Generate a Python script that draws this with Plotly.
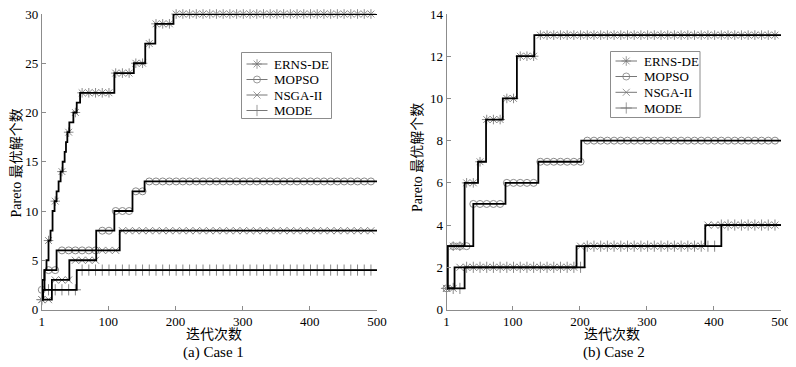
import numpy as np
import plotly.graph_objects as go

# ---------------- data (step change points: iteration -> value) ----------------
ITER_MAX = 500
x_ticks = [1, 100, 200, 300, 400, 500]
y1_ticks = [0, 5, 10, 15, 20, 25, 30]
y2_ticks = [0, 2, 4, 6, 8, 10, 12, 14]
series_names = ["ERNS-DE", "MOPSO", "NSGA-II", "MODE"]

# Case 1
c1_ernsde_iter = [1, 3, 5, 8, 11, 14, 17, 20, 23, 26, 29, 32, 35, 37, 39, 42, 48, 53, 58, 109, 138, 155, 170, 197]
c1_ernsde_val = [1, 2, 4, 5, 7, 8, 10, 11, 12, 13, 14, 15, 16, 17, 18, 19, 20, 21, 22, 24, 25, 27, 29, 30]
c1_mopso_iter = [1, 2, 5, 23, 82, 109, 136, 154]
c1_mopso_val = [2, 3, 4, 6, 8, 10, 12, 13]
c1_nsga_iter = [1, 16, 42, 82, 117]
c1_nsga_val = [1, 3, 5, 6, 8]
c1_mode_iter = [1, 2, 53]
c1_mode_val = [1, 2, 4]

# Case 2
c2_ernsde_iter = [1, 2, 28, 48, 60, 85, 106, 132]
c2_ernsde_val = [1, 3, 6, 7, 9, 10, 12, 13]
c2_mopso_iter = [1, 3, 41, 89, 138, 202]
c2_mopso_val = [1, 3, 5, 6, 7, 8]
c2_nsga_iter = [1, 13, 195, 387]
c2_nsga_val = [1, 2, 3, 4]
c2_mode_iter = [1, 28, 207, 411]
c2_mode_val = [1, 2, 3, 4]

marker_every = 10

# ---------------- styling ----------------
SERIF = "Liberation Serif, Times New Roman, serif"
CJK = "Liberation Serif, Noto Sans CJK SC, serif"
symbols = ["asterisk-open", "circle-open", "x-thin-open", "cross-thin-open"]
msizes = [8, 7, 7, 8]
MCOL = "#8a8a8a"
AXCOL = "#8c8c8c"

# the page places the figure 8px from the top-left corner of the window
OFF = 8
VIEW_W, VIEW_H = 796, 367
W, H = VIEW_W - OFF, VIEW_H - OFF

fig = go.Figure()

cases = [
    ([c1_ernsde_iter, c1_mopso_iter, c1_nsga_iter, c1_mode_iter],
     [c1_ernsde_val, c1_mopso_val, c1_nsga_val, c1_mode_val], "x", "y"),
    ([c2_ernsde_iter, c2_mopso_iter, c2_nsga_iter, c2_mode_iter],
     [c2_ernsde_val, c2_mopso_val, c2_nsga_val, c2_mode_val], "x2", "y2"),
]

mk_iters = np.arange(1, ITER_MAX + 1, marker_every)

for iters_list, vals_list, xa, ya in cases:
    # markers (grey) first
    for k in range(4):
        it = np.array(iters_list[k])
        v = np.array(vals_list[k])
        idx = np.searchsorted(it, mk_iters, side="right") - 1
        fig.add_trace(go.Scatter(
            x=mk_iters, y=v[idx], mode="markers", xaxis=xa, yaxis=ya,
            showlegend=False, hoverinfo="skip", cliponaxis=False,
            marker=dict(symbol=symbols[k], size=msizes[k], color=MCOL,
                        line=dict(color=MCOL, width=1))))
    # black step lines
    for k in range(4):
        it = list(iters_list[k]) + [ITER_MAX]
        v = list(vals_list[k]) + [vals_list[k][-1]]
        fig.add_trace(go.Scatter(
            x=it, y=v, mode="lines", xaxis=xa, yaxis=ya, line_shape="hv",
            showlegend=False, hoverinfo="skip", cliponaxis=False,
            line=dict(color="black", width=1.8)))

# ---------------- hand-drawn legends (window-pixel overlay axes x3/y3) ----------------
legend_boxes = [
    dict(x0=241.5, y0=52.5, x1=331.5, y1=118.5, lx0=246.5, lx1=267.5, tx=271.5,
         rows=[64, 79.5, 95, 110.5]),
    dict(x0=610.5, y0=51.5, x1=700, y1=117.5, lx0=615.5, lx1=637, tx=641.5,
         rows=[61, 76.5, 92.3, 108]),
]
shapes = []
annotations = []
for lb in legend_boxes:
    shapes.append(dict(type="rect", xref="x3", yref="y3", x0=lb["x0"], y0=lb["y0"],
                       x1=lb["x1"], y1=lb["y1"], line=dict(color=AXCOL, width=1),
                       fillcolor="white", layer="below"))
    for k in range(4):
        yy = lb["rows"][k]
        shapes.append(dict(type="line", xref="x3", yref="y3", x0=lb["lx0"], x1=lb["lx1"],
                           y0=yy, y1=yy, line=dict(color="#777777", width=1)))
        annotations.append(dict(text=series_names[k], xref="x3", yref="y3", x=lb["tx"], y=yy,
                                xanchor="left", yanchor="middle", showarrow=False,
                                font=dict(family=SERIF, size=13, color="black")))
    fig.add_trace(go.Scatter(
        x=[(lb["lx0"] + lb["lx1"]) / 2] * 4, y=lb["rows"], mode="markers",
        xaxis="x3", yaxis="y3", showlegend=False, hoverinfo="skip",
        marker=dict(symbol=symbols, size=msizes, color="#707070",
                    line=dict(color="#707070", width=1))))

def px_x(p):
    return (p - OFF) / W
def px_y(p):
    return 1 - (p - OFF) / H

ydom = [px_y(309.5), px_y(14)]
axis_common = dict(showline=True, linecolor=AXCOL, linewidth=1, ticks="inside",
                   ticklen=4, tickcolor=AXCOL, showgrid=False, zeroline=False,
                   automargin=False, ticklabeloverflow="allow",
                   tickfont=dict(family=SERIF, size=13, color="black"))

annotations += [
    dict(text="Pareto 最优解个数", x=px_x(16.5), y=px_y(163), xref="paper", yref="paper",
         xanchor="center", yanchor="middle",
         textangle=-90, showarrow=False, font=dict(family=CJK, size=14, color="black")),
    dict(text="Pareto 最优解个数", x=px_x(417), y=px_y(158), xref="paper", yref="paper",
         xanchor="center", yanchor="middle",
         textangle=-90, showarrow=False, font=dict(family=CJK, size=14, color="black")),
    dict(text="迭代次数", x=px_x(214), y=px_y(334), xref="paper", yref="paper",
         xanchor="center", yanchor="middle",
         showarrow=False, font=dict(family=CJK, size=14, color="black")),
    dict(text="迭代次数", x=px_x(612), y=px_y(334), xref="paper", yref="paper",
         xanchor="center", yanchor="middle",
         showarrow=False, font=dict(family=CJK, size=14, color="black")),
    dict(text="(a) Case 1", x=px_x(213.5), y=px_y(352), xref="paper", yref="paper",
         xanchor="center", yanchor="middle",
         showarrow=False, font=dict(family=SERIF, size=15, color="black")),
    dict(text="(b) Case 2", x=px_x(613.5), y=px_y(352), xref="paper", yref="paper",
         xanchor="center", yanchor="middle",
         showarrow=False, font=dict(family=SERIF, size=15, color="black")),
]

fig.update_layout(
    width=W, height=H, margin=dict(l=0, r=0, t=0, b=0, pad=0, autoexpand=False),
    paper_bgcolor="white", plot_bgcolor="rgba(0,0,0,0)",
    showlegend=False,
    xaxis=dict(domain=[px_x(41.8), px_x(377)], range=[1, 500], tickvals=x_ticks,
               anchor="y", **axis_common),
    yaxis=dict(domain=ydom, range=[0, 30], tickvals=y1_ticks, anchor="x", **axis_common),
    xaxis2=dict(domain=[px_x(446.5), px_x(781)], range=[1, 500], tickvals=x_ticks,
                anchor="y2", **axis_common),
    yaxis2=dict(domain=ydom, range=[0, 14], tickvals=y2_ticks, anchor="x2", **axis_common),
    xaxis3=dict(domain=[0, 1], range=[OFF, VIEW_W], visible=False, anchor="y3", fixedrange=True),
    yaxis3=dict(domain=[0, 1], range=[VIEW_H, OFF], visible=False, anchor="x3", fixedrange=True),
    shapes=shapes,
    annotations=annotations,
)

fig.write_html("out.html")
